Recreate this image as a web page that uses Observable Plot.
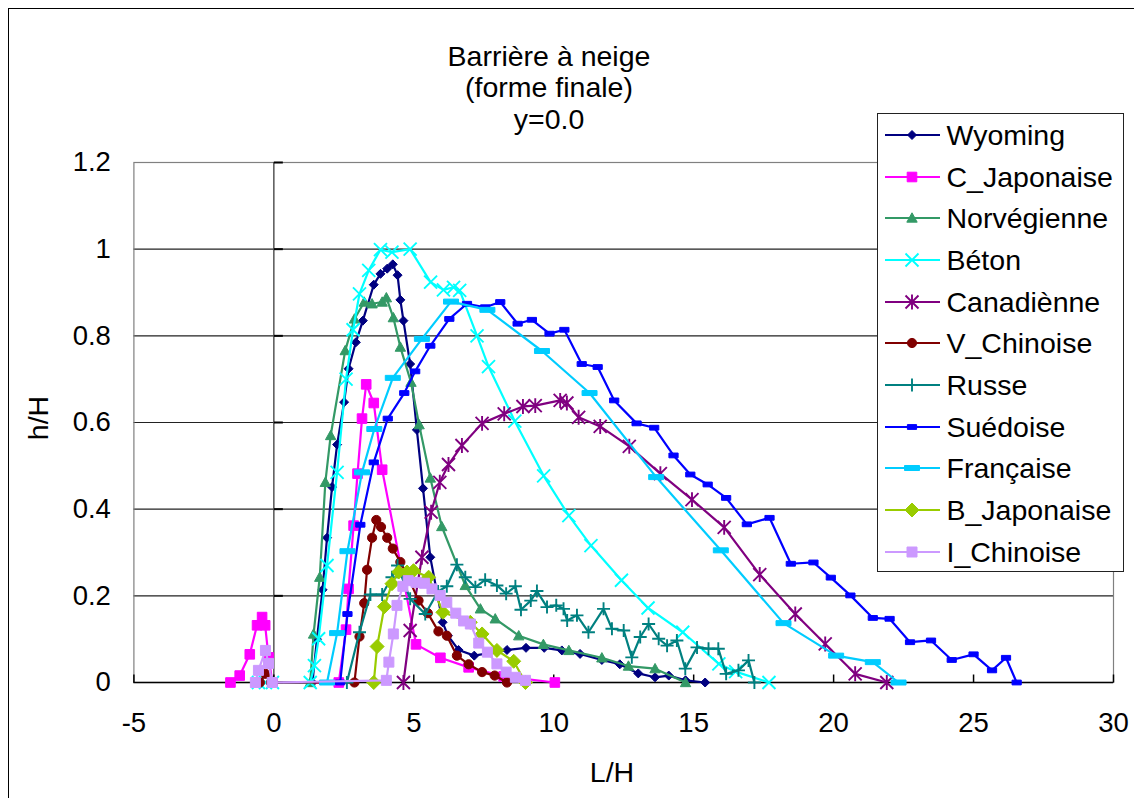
<!DOCTYPE html>
<html><head><meta charset="utf-8">
<script src="https://cdn.jsdelivr.net/npm/d3@7"></script>
<script src="https://cdn.jsdelivr.net/npm/@observablehq/plot@0.6"></script>
<style>
html,body{margin:0;padding:0;background:#fff;}
#wrap{position:relative;width:1134px;height:798px;overflow:hidden;font-family:"Liberation Sans",Arial,sans-serif;color:#000;}
.t{position:absolute;white-space:nowrap;line-height:1;transform:translate(-50%,-50%);}
.l{position:absolute;white-space:nowrap;line-height:1;transform:translate(0,-50%);font-size:28.5px;}
#frame{position:absolute;left:8px;top:8px;width:1300px;height:1000px;border:1.5px solid #000;}
#legend{position:absolute;left:877px;top:113px;width:247px;height:459px;background:#fff;border:1.5px solid #222;box-sizing:border-box;}
#wrap svg.plot{position:absolute;left:0;top:0;}
</style></head><body><div id="wrap"><div id="frame"></div></div>
<script>
// ---- data (L/H, h/H) ----
const wyoming = [[1.38,0],[1.54,0.10],[1.74,0.214],[1.90,0.334],[2.08,0.451],[2.26,0.549],[2.51,0.647],[2.67,0.724],[2.93,0.785],[3.18,0.835],[3.57,0.918],[3.81,0.943],[4.05,0.955],[4.25,0.965],[4.42,0.94],[4.52,0.883],[4.63,0.835],[4.87,0.735],[5.11,0.583],[5.33,0.448],[5.59,0.289],[6.03,0.139],[6.22,0.108],[6.6,0.075],[7.16,0.062],[8.33,0.075],[9.01,0.08],[9.66,0.08],[10.29,0.074],[10.94,0.066],[11.72,0.052],[12.36,0.042],[13.02,0.021],[13.62,0.012],[14.11,0.016],[14.71,0.005],[15.41,0]];
const cJaponaise = [[-1.55,0],[-1.22,0.016],[-0.86,0.065],[-0.6,0.132],[-0.42,0.151],[-0.31,0.132],[-0.19,0.058],[-0.05,0],[2.32,0],[2.58,0.122],[2.67,0.216],[2.85,0.362],[2.99,0.482],[3.15,0.609],[3.30,0.688],[3.57,0.645],[3.87,0.491],[5.08,0.088],[5.95,0.057],[6.96,0.035],[8.21,0.014],[10.04,0]];
const norvegienne = [[1.30,0],[1.42,0.112],[1.64,0.243],[1.84,0.462],[2.03,0.57],[2.55,0.766],[2.88,0.839],[3.23,0.878],[3.51,0.874],[3.87,0.878],[4.02,0.888],[4.27,0.842],[4.52,0.774],[4.90,0.693],[5.19,0.595],[5.59,0.472],[6.0,0.36],[6.84,0.224],[7.38,0.17],[7.91,0.147],[8.75,0.108],[9.63,0.088],[10.54,0.074],[11.72,0.057],[12.67,0.038],[13.62,0.032],[14.71,0]];
const beton = [[-0.55,0],[-0.3,0],[-0.05,0],[1.30,0],[1.45,0.039],[1.60,0.101],[1.90,0.27],[2.26,0.485],[2.58,0.70],[2.83,0.814],[3.06,0.897],[3.39,0.951],[3.81,0.999],[4.22,0.993],[4.87,1.0],[5.60,0.924],[6.06,0.906],[6.42,0.912],[6.64,0.905],[7.26,0.80],[7.67,0.729],[8.61,0.603],[9.64,0.477],[10.54,0.385],[11.33,0.316],[12.42,0.236],[13.37,0.172],[14.61,0.116],[15.9,0.043],[16.5,0.025],[17.69,0]];
const canadienne = [[4.63,0],[4.87,0.12],[5.29,0.289],[5.62,0.393],[5.93,0.462],[6.24,0.503],[6.72,0.547],[7.44,0.598],[8.23,0.62],[8.90,0.637],[9.34,0.639],[10.23,0.651],[10.47,0.645],[10.89,0.612],[11.66,0.591],[12.70,0.545],[13.81,0.482],[14.94,0.422],[16.09,0.358],[17.36,0.249],[18.63,0.158],[19.70,0.089],[20.77,0.02],[21.90,0]];
const vChinoise = [[-0.5,0],[-0.3,0.02],[-0.1,0],[2.88,0],[3.06,0.106],[3.23,0.183],[3.33,0.26],[3.51,0.334],[3.66,0.375],[3.83,0.359],[4.05,0.334],[4.25,0.309],[4.52,0.278],[4.76,0.249],[5.17,0.189],[5.50,0.16],[5.88,0.118],[6.18,0.108],[6.54,0.062],[6.96,0.042],[7.44,0.024],[7.89,0.016],[8.33,0]];
const russe = [[2.61,0],[3.06,0.116],[3.45,0.203],[3.87,0.203],[4.22,0.243],[4.42,0.27],[4.87,0.193],[5.41,0.158],[5.87,0.21],[6.18,0.222],[6.54,0.272],[6.84,0.243],[7.20,0.22],[7.55,0.237],[7.97,0.224],[8.30,0.205],[8.63,0.222],[8.83,0.168],[9.18,0.189],[9.40,0.211],[9.76,0.174],[10.09,0.178],[10.35,0.17],[10.48,0.143],[10.83,0.155],[11.24,0.116],[11.78,0.17],[12.08,0.124],[12.5,0.12],[12.79,0.058],[13.09,0.105],[13.39,0.135],[13.75,0.101],[14.05,0.085],[14.4,0.097],[14.7,0.032],[15.12,0.081],[15.53,0.078],[15.88,0.078],[16.16,0.02],[16.6,0.028],[16.96,0.051],[17.17,0]];
const suedoise = [[2.37,0],[2.63,0.158],[3.09,0.364],[3.57,0.508],[4.07,0.609],[4.66,0.668],[5.05,0.718],[5.59,0.777],[6.27,0.839],[6.90,0.874],[7.55,0.866],[8.09,0.878],[8.71,0.828],[9.22,0.837],[9.85,0.805],[10.38,0.814],[11.0,0.735],[11.57,0.728],[12.16,0.651],[12.96,0.598],[13.59,0.588],[14.28,0.524],[14.88,0.48],[15.5,0.457],[16.16,0.426],[16.9,0.365],[17.71,0.38],[18.47,0.274],[19.28,0.277],[19.9,0.242],[20.6,0.201],[21.4,0.149],[22.0,0.147],[22.73,0.093],[23.48,0.097],[24.22,0.052],[25.0,0.065],[25.66,0.028],[26.16,0.057],[26.54,0]];
const francaise = [[1.90,0],[2.26,0.114],[2.63,0.303],[3.15,0.485],[3.59,0.585],[4.25,0.703],[5.29,0.793],[6.33,0.879],[7.63,0.86],[9.58,0.765],[11.28,0.668],[13.66,0.474],[15.97,0.305],[18.21,0.137],[20.09,0.062],[21.4,0.047],[22.32,0]];
const bJaponaise = [[3.57,0],[3.69,0.083],[3.95,0.175],[4.22,0.228],[4.46,0.255],[4.76,0.255],[4.99,0.258],[5.53,0.243],[6.04,0.162],[7.02,0.139],[7.44,0.112],[7.97,0.074],[8.57,0.049],[8.99,0]];
const iChinoise = [[-0.66,0],[-0.55,0.028],[-0.3,0.074],[-0.19,0.044],[-0.06,0],[4.02,0.005],[4.11,0.047],[4.27,0.112],[4.40,0.178],[4.61,0.222],[4.80,0.235],[5.08,0.231],[5.38,0.229],[5.65,0.216],[5.94,0.201],[6.18,0.185],[6.5,0.16],[6.78,0.142],[7.02,0.135],[7.32,0.091],[7.63,0.07],[7.97,0.043],[8.30,0.024],[8.63,0.012],[8.99,0.005]];

const seriesNames = ["Wyoming","C_Japonaise","Norvégienne","Béton","Canadiènne","V_Chinoise","Russe","Suédoise","Française","B_Japonaise","I_Chinoise"];
const seriesData = [wyoming,cJaponaise,norvegienne,beton,canadienne,vChinoise,russe,suedoise,francaise,bJaponaise,iChinoise];
const xTicks = [-5,0,5,10,15,20,25,30];
const xTickLabels = ["-5","0","5","10","15","20","25","30"];
const yTicks = [0,0.2,0.4,0.6,0.8,1,1.2];
const yTickLabels = ["0","0.2","0.4","0.6","0.8","1","1.2"];
const titleLines = ["Barrière à neige","(forme finale)","y=0.0"];
const xTitle = "L/H", yTitle = "h/H";

// ---- marker shapes ----
const sym = f => ({draw(c){ f(c); }});
const diamond = r => sym(c=>{c.moveTo(0,-r);c.lineTo(r,0);c.lineTo(0,r);c.lineTo(-r,0);c.closePath();});
const square = r => sym(c=>{c.rect(-r,-r,2*r,2*r);});
const triangle = r => sym(c=>{c.moveTo(0,-r);c.lineTo(r,r*0.8);c.lineTo(-r,r*0.8);c.closePath();});
const times = r => sym(c=>{c.moveTo(-r,-r);c.lineTo(r,r);c.moveTo(r,-r);c.lineTo(-r,r);});
const asterisk = r => sym(c=>{c.moveTo(-r,-r);c.lineTo(r,r);c.moveTo(r,-r);c.lineTo(-r,r);c.moveTo(0,-r*1.15);c.lineTo(0,r*1.15);});
const circle = r => sym(c=>{c.moveTo(r,0);c.arc(0,0,r,0,2*Math.PI);c.closePath();});
const plus = r => sym(c=>{c.moveTo(-r,0);c.lineTo(r,0);c.moveTo(0,-r);c.lineTo(0,r);});
const dash = (w,h) => sym(c=>{c.rect(-w,-h,2*w,2*h);});
const tickRight = sym(c=>{c.moveTo(0,0);c.lineTo(9,0);});
const tickUp = sym(c=>{c.moveTo(0,0);c.lineTo(0,-8);});

const styles = [
  {color:"#000080", symbol:diamond(4.5), filled:true},
  {color:"#FF00FF", symbol:square(4.8), filled:true},
  {color:"#339966", symbol:triangle(5.2), filled:true},
  {color:"#00FFFF", symbol:times(6.5), filled:false},
  {color:"#800080", symbol:asterisk(6.5), filled:false},
  {color:"#800000", symbol:circle(4.6), filled:true},
  {color:"#008080", symbol:plus(6.5), filled:false},
  {color:"#0000FF", symbol:dash(4.6,2.4), filled:true},
  {color:"#00CCFF", symbol:dash(7.5,2.5), filled:true},
  {color:"#99CC00", symbol:diamond(7), filled:true},
  {color:"#CC99FF", symbol:square(5), filled:true}
];

const font = "Liberation Sans, Arial, sans-serif";
const seriesMarks = seriesData.flatMap((data,i)=>{
  const s = styles[i];
  return [
    Plot.line(data,{x:d=>d[0],y:d=>d[1],stroke:s.color,strokeWidth:2.2}),
    Plot.dot(data,{x:d=>d[0],y:d=>d[1],r:5,symbol:s.symbol,
      fill:s.filled?s.color:"none",stroke:s.color,strokeWidth:s.filled?1:1.9})
  ];
});

const chart = Plot.plot({
  width:1134, height:798,
  marginLeft:133.4, marginRight:21, marginTop:162, marginBottom:116,
  x:{domain:[-5,30], axis:null},
  y:{domain:[0,1.2], axis:null},
  style:{background:"transparent", fontFamily:font, color:"#000"},
  marks:[
    Plot.ruleY(yTicks.filter(v=>v>0 && v<1.2),{y:d=>d,stroke:"#222",strokeWidth:1.1}),
    Plot.frame({stroke:"#808080",strokeWidth:1.2}),
    Plot.ruleX([0],{x:d=>d,stroke:"#555",strokeWidth:1.5}),
    Plot.ruleY([0],{y:d=>d,stroke:"#000",strokeWidth:1.5}),
    Plot.dot(yTicks,{x:()=>0,y:d=>d,symbol:tickRight,r:5,stroke:"#000",strokeWidth:2,fill:"none"}),
    Plot.dot(xTicks,{x:d=>d,y:()=>0,symbol:tickUp,r:5,stroke:"#000",strokeWidth:1.5,fill:"none"}),
    Plot.text(yTicks,{x:()=>-5,y:d=>d,text:(d,i)=>yTickLabels[i],textAnchor:"end",dx:-23,fontSize:27.5,fill:"#000"}),
    Plot.text(xTicks,{x:d=>d,y:()=>0,text:(d,i)=>xTickLabels[i],dy:41,fontSize:27.5,fill:"#000"}),
    ...seriesMarks
  ]
});
const wrap = document.getElementById("wrap");
wrap.appendChild(chart);

function addText(txt, x, y, size, cls="t", extra="") {
  const d = document.createElement("div");
  d.className = cls; d.textContent = txt;
  d.style.left = x+"px"; d.style.top = y+"px"; d.style.fontSize = size+"px";
  if (extra) d.style.cssText += extra;
  wrap.appendChild(d); return d;
}
// title
const titleY = [56, 87, 119];
titleLines.forEach((t,i)=>addText(t, 549, titleY[i], 28.5));
addText(xTitle, 612, 772, 28.5);
addText(yTitle, 38, 418, 28.5, "t", "transform:translate(-50%,-50%) rotate(-90deg);");

// legend
const leg = document.createElement("div"); leg.id="legend"; wrap.appendChild(leg);
seriesNames.forEach((name,i)=>{
  const cy = 135 + i*41.67;
  const s = styles[i];
  const p = d3.path(); s.symbol.draw(p);
  const svg = d3.create("svg").attr("width",70).attr("height",30)
    .style("position","absolute").style("left","880px").style("top",(cy-15)+"px");
  svg.append("line").attr("x1",5).attr("x2",60).attr("y1",15).attr("y2",15)
    .attr("stroke",s.color).attr("stroke-width",2.2);
  svg.append("path").attr("d",p.toString()).attr("transform","translate(32,15)")
    .attr("fill",s.filled?s.color:"none").attr("stroke",s.color).attr("stroke-width",s.filled?1:1.9);
  wrap.appendChild(svg.node());
  addText(name, 946.5, cy, 28.5, "l");
});
</script></body></html>
